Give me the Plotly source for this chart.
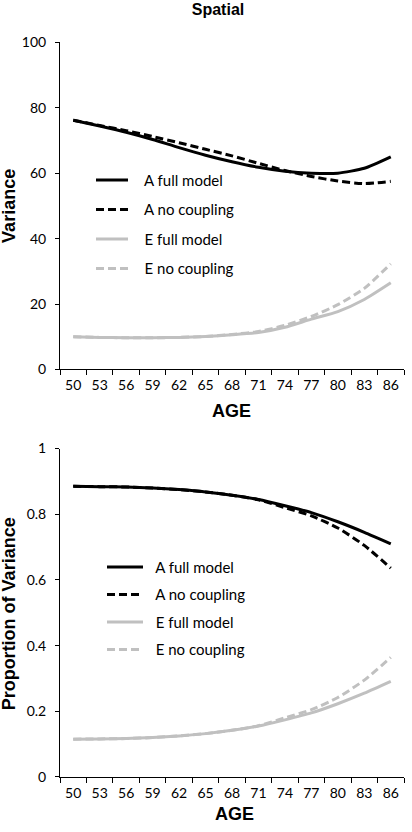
import plotly.graph_objects as go

ages = ["50", "53", "56", "59", "62", "65", "68", "71", "74", "77", "80", "83", "86"]

# Variance (top panel)
var_a_full = [76.2, 74.4, 72.5, 70.3, 67.8, 65.5, 63.5, 61.8, 60.6, 60.0, 60.0, 61.5, 65.0]
var_a_nocoup = [76.2, 74.6, 73.0, 71.2, 69.3, 67.3, 65.3, 63.0, 60.8, 59.0, 57.6, 56.8, 57.5]
var_e_full = [10.0, 9.8, 9.7, 9.7, 9.8, 10.1, 10.6, 11.3, 12.9, 15.4, 17.7, 21.4, 26.5]
var_e_nocoup = [10.0, 9.8, 9.7, 9.7, 9.8, 10.1, 10.7, 11.6, 13.5, 16.2, 19.8, 24.8, 32.3]

# Proportion of variance (bottom panel)
prop_a_full = [0.885, 0.884, 0.883, 0.880, 0.875, 0.868, 0.858, 0.845, 0.826, 0.805, 0.777, 0.745, 0.710]
prop_a_nocoup = [0.885, 0.884, 0.883, 0.880, 0.875, 0.868, 0.858, 0.844, 0.820, 0.795, 0.758, 0.705, 0.636]
prop_e_full = [0.115, 0.116, 0.117, 0.120, 0.125, 0.132, 0.142, 0.155, 0.174, 0.195, 0.223, 0.255, 0.291]
prop_e_nocoup = [0.115, 0.116, 0.117, 0.120, 0.125, 0.132, 0.142, 0.156, 0.180, 0.205, 0.242, 0.295, 0.364]

names = ["A full model", "A no coupling", "E full model", "E no coupling"]
BLACK = "#000000"
GRAY = "#c0c0c0"
styles = [(BLACK, "solid"), (BLACK, "8px,4px"), (GRAY, "solid"), (GRAY, "8px,4px")]

fig = go.Figure()

for i, (vals, nm) in enumerate(zip([var_a_full, var_a_nocoup, var_e_full, var_e_nocoup], names)):
    col, dash = styles[i]
    fig.add_trace(go.Scatter(x=ages, y=vals, mode="lines", name="\u00a0\u00a0\u00a0" + nm,
                             line=dict(color=col, width=3, dash=dash, shape="spline", smoothing=0.6),
                             xaxis="x", yaxis="y", legend="legend", legendgroup="t%d" % i))

for i, (vals, nm) in enumerate(zip([prop_a_full, prop_a_nocoup, prop_e_full, prop_e_nocoup], names)):
    col, dash = styles[i]
    fig.add_trace(go.Scatter(x=ages, y=vals, mode="lines", name="\u00a0\u00a0" + nm,
                             line=dict(color=col, width=3, dash=dash, shape="spline", smoothing=0.6),
                             xaxis="x2", yaxis="y2", legend="legend2", legendgroup="b%d" % i))

W, H = 412, 832
xdom = [60 / W, 404 / W]
xtickfont = dict(family="Lato, Open Sans, sans-serif", size=14, color="#000")
ytickfont = dict(family="Lato, Open Sans, sans-serif", size=14, color="#000")
titlefont = dict(family="Liberation Sans, Arial, sans-serif", size=18, color="#000")

common_x = dict(type="category", tickson="boundaries", ticks="outside", ticklen=5,
                range=[-0.5, 12.5], autorange=False, tickangle=0,
                tickcolor="#000", showline=True, linecolor="#000", linewidth=1,
                showgrid=False, zeroline=False, tickfont=xtickfont, domain=xdom,
                ticklabelstandoff=3)
common_y = dict(ticks="outside", ticklen=4, tickcolor="#000", showline=True, linecolor="#000",
                linewidth=1, showgrid=False, zeroline=False, tickfont=ytickfont,
                ticklabelstandoff=6)

fig.update_layout(
    width=W, height=H,
    margin=dict(l=0, r=0, t=0, b=0),
    paper_bgcolor="white", plot_bgcolor="white",
    title=dict(text="<b>Spatial</b>", x=218 / W, xanchor="center", y=1 - 9 / H, yanchor="middle",
               font=dict(family="Liberation Sans, Arial, sans-serif", size=16, color="#000")),
    xaxis=dict(**common_x, anchor="y"),
    yaxis=dict(**common_y, domain=[1 - 368 / H, 1 - 34 / H], range=[0, 100], dtick=20, anchor="x"),
    xaxis2=dict(**common_x, anchor="y2"),
    yaxis2=dict(**common_y, domain=[1 - 784 / H, 1 - 448.7 / H], range=[0, 1], dtick=0.2, anchor="x2"),
    legend=dict(x=91 / W, y=1 - 158 / H, xanchor="left", yanchor="top", bgcolor="rgba(0,0,0,0)",
                font=dict(family="Lato, Open Sans, sans-serif", size=15, color="#000"),
                itemwidth=32, tracegroupgap=7, traceorder="grouped"),
    legend2=dict(x=102 / W, y=1 - 553 / H, xanchor="left", yanchor="top", bgcolor="rgba(0,0,0,0)",
                 font=dict(family="Lato, Open Sans, sans-serif", size=15, color="#000"),
                 itemwidth=36, tracegroupgap=5, traceorder="grouped"),
    annotations=[
        dict(text="<b>Variance</b>", x=9 / W, y=1 - 201 / H, xref="paper", yref="paper",
             textangle=-90, showarrow=False, xanchor="center", yanchor="middle", font=titlefont),
        dict(text="<b>Proportion of Variance</b>", x=9 / W, y=1 - 618 / H, xref="paper", yref="paper",
             textangle=-90, showarrow=False, xanchor="center", yanchor="middle", font=titlefont),
        dict(text="<b>AGE</b>", x=231 / W, y=1 - 410 / H, xref="paper", yref="paper",
             showarrow=False, xanchor="center", yanchor="middle", font=titlefont),
        dict(text="<b>AGE</b>", x=234 / W, y=1 - 822 / H, xref="paper", yref="paper",
             showarrow=False, xanchor="center", yanchor="middle", font=titlefont),
    ],
)

fig.write_html("out.html", config={"displayModeBar": False},
               post_script="document.body.style.margin='0';document.body.style.padding='0';document.body.style.overflow='hidden';")
